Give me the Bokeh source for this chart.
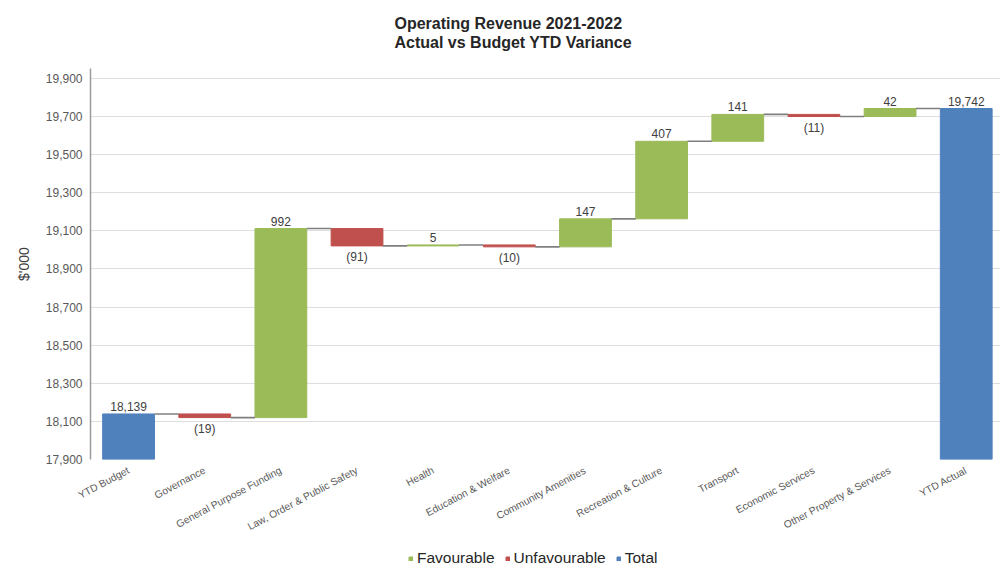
from bokeh.plotting import figure
from bokeh.models import (ColumnDataSource, FixedTicker, NumeralTickFormatter, Legend,
                          LegendItem, Title, Range1d)
from bokeh.layouts import column
from bokeh.core.properties import value
from bokeh.embed import file_html
from bokeh.resources import INLINE
import math

categories = ["YTD Budget", "Governance", "General Purpose Funding",
              "Law, Order & Public Safety", "Health", "Education & Welfare",
              "Community Amenities", "Recreation & Culture", "Transport",
              "Economic Services", "Other Property & Services", "YTD Actual"]
values = [18139, -19, 992, -91, 5, -10, 147, 407, 141, -11, 42, 19742]
is_total = [True] + [False] * 10 + [True]
y_ticks = [17900, 18100, 18300, 18500, 18700, 18900, 19100, 19300, 19500, 19700, 19900]
legend_labels = ["Favourable", "Unfavourable", "Total"]
y_start, y_end = 17900, 19952

COLORS = {"Favourable": "#9BBB59", "Unfavourable": "#C0504D", "Total": "#4F81BD"}
BAR_W = 0.68

# waterfall geometry
xs, bottoms, tops, kinds, labels = [], [], [], [], []
running = 0
levels = []
for i, (v, t) in enumerate(zip(values, is_total)):
    x = i + 0.5
    if t:
        b, tp = 0, v
        running = v
        kind = "Total"
    else:
        b, tp = (running, running + v) if v >= 0 else (running + v, running)
        running += v
        kind = "Favourable" if v >= 0 else "Unfavourable"
    xs.append(x); bottoms.append(b); tops.append(tp); kinds.append(kind)
    labels.append(f"{v:,}" if v >= 0 else f"({-v:,})")
    levels.append(running)

p = figure(width=1000, height=545, output_backend="svg", toolbar_location=None,
           x_range=Range1d(0, 11.95), y_range=Range1d(y_start, y_end),
           min_border_left=90, min_border_right=0, min_border_top=68, min_border_bottom=86,
           background_fill_color="white", border_fill_color="white")
p.outline_line_color = None
p.title.visible = False

for kind in legend_labels:
    idx = [i for i, k in enumerate(kinds) if k == kind]
    src = ColumnDataSource(dict(x=[xs[i] for i in idx], top=[tops[i] for i in idx],
                                bottom=[bottoms[i] for i in idx]))
    p.vbar(x="x", top="top", bottom="bottom", width=BAR_W, source=src,
           fill_color=COLORS[kind], line_color=COLORS[kind], line_width=1)

# connectors
cx0 = [xs[i] + BAR_W / 2 for i in range(len(xs) - 1)]
cx1 = [xs[i + 1] - BAR_W / 2 for i in range(len(xs) - 1)]
cy = levels[:-1]
p.segment(x0=cx0, x1=cx1, y0=cy, y1=cy, line_color="#7f7f7f", line_width=1.6)

# data labels
up_i = [i for i, k in enumerate(kinds) if k != "Unfavourable"]
dn_i = [i for i, k in enumerate(kinds) if k == "Unfavourable"]
p.text(x=[xs[i] for i in up_i], y=[tops[i] for i in up_i], text=[labels[i] for i in up_i],
       text_align="center", text_baseline="bottom", y_offset=-3,
       text_font=value("Liberation Sans"), text_font_size="12px", text_color="#404040")
p.text(x=[xs[i] for i in dn_i], y=[bottoms[i] for i in dn_i], text=[labels[i] for i in dn_i],
       text_align="center", text_baseline="top", y_offset=4,
       text_font=value("Liberation Sans"), text_font_size="12px", text_color="#404040")

# axes
p.xaxis.ticker = FixedTicker(ticks=xs)
p.xaxis.major_label_overrides = {x: c for x, c in zip(xs, categories)}
p.xaxis.major_label_orientation = math.radians(28)
p.xaxis.major_label_text_font = "Liberation Sans"
p.xaxis.major_label_text_font_size = "10.3px"
p.xaxis.major_label_text_color = "#595959"
p.xaxis.axis_line_color = None
p.xaxis.major_tick_line_color = None
p.xaxis.minor_tick_line_color = None
p.xaxis.major_label_standoff = 4

p.yaxis.ticker = FixedTicker(ticks=y_ticks)
p.yaxis.formatter = NumeralTickFormatter(format="0,0")
p.yaxis.major_label_text_font = "Liberation Sans"
p.yaxis.major_label_text_font_size = "12px"
p.yaxis.major_label_text_color = "#595959"
p.yaxis.axis_line_color = "#9a9a9a"
p.yaxis.axis_line_width = 1.5
p.yaxis.major_tick_line_color = None
p.yaxis.minor_tick_line_color = None
p.yaxis.major_tick_out = 0
p.yaxis.major_tick_in = 0
p.yaxis.minor_tick_out = 0
p.yaxis.major_label_standoff = 8
p.yaxis.axis_label = "$'000"
p.yaxis.axis_label_text_font = "Liberation Sans"
p.yaxis.axis_label_text_font_style = "normal"
p.yaxis.axis_label_text_font_size = "14px"
p.yaxis.axis_label_text_color = "#404040"
p.yaxis.axis_label_standoff = 11

p.xgrid.grid_line_color = None
p.ygrid.grid_line_color = "#dedede"
p.ygrid.grid_line_width = 1

# titles (nearest the frame first): spacer, line 2, line 1
p.add_layout(Title(text=" ", text_font_size="14px", standoff=0), "above")
for txt in ["Actual vs Budget YTD Variance", "Operating Revenue 2021-2022"]:
    p.add_layout(Title(text=txt, align="left", offset=304, text_font="Liberation Sans",
                       text_font_size="16px", text_font_style="bold", text_color="#262626",
                       standoff=0), "above")

# legend strip below the chart (swatch glyphs sit outside the strip's visible range)
lg = figure(width=1000, height=43, output_backend="svg", toolbar_location=None,
            x_range=Range1d(0, 1), y_range=Range1d(0, 1), x_axis_type=None, y_axis_type=None,
            min_border=0, background_fill_color="white", border_fill_color="white")
lg.outline_line_color = None
lg.grid.visible = False
items = []
for kind in legend_labels:
    r = lg.vbar(x=[-5], top=[-5], bottom=[-6], width=0.1,
                fill_color=COLORS[kind], line_color=COLORS[kind])
    items.append(LegendItem(label=kind, renderers=[r]))
legend = Legend(items=items, orientation="horizontal", location=(318, 21),
                label_text_font="Liberation Sans", label_text_font_size="15.5px",
                label_text_color="#262626", glyph_width=5, glyph_height=5,
                label_standoff=4, spacing=10, border_line_color=None,
                background_fill_alpha=0, padding=0, margin=0)
lg.add_layout(legend, "center")

open("out.html", "w").write(file_html(column(p, lg), INLINE))
